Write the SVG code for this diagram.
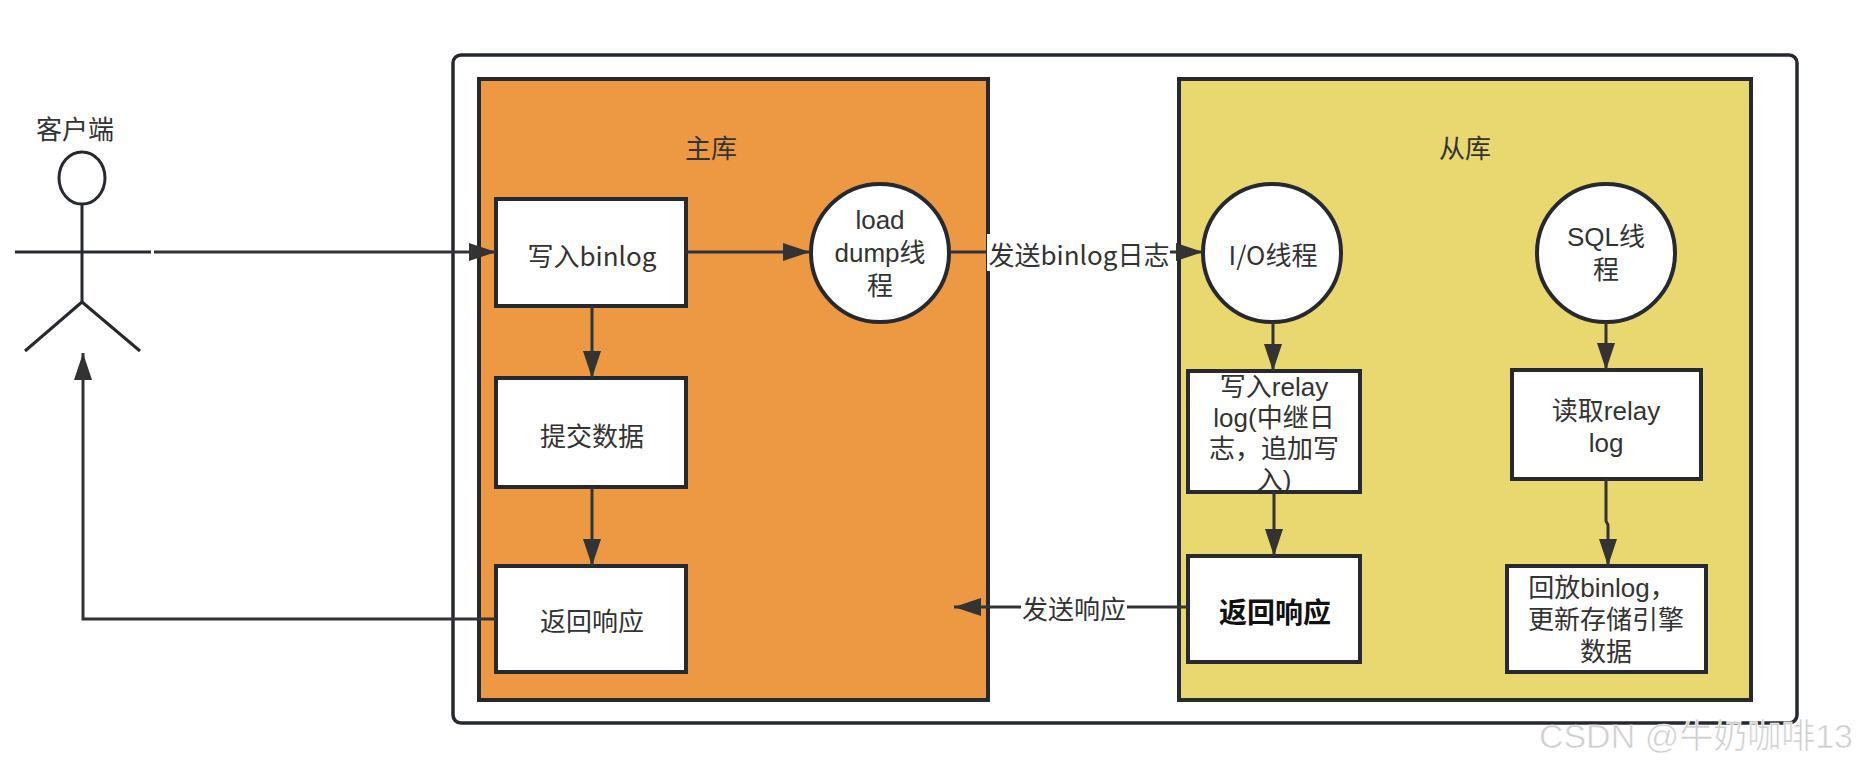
<svg xmlns="http://www.w3.org/2000/svg" width="1858" height="768" viewBox="0 0 1858 768">
<style>
  text { font-family: "Noto Sans CJK SC", "Liberation Sans", sans-serif; fill: #333333; }
  .t { font-size: 26px; text-anchor: middle; dominant-baseline: central; }
  .tr { font-family: "Liberation Sans", "Noto Sans CJK SC", sans-serif; font-size: 26px; text-anchor: middle; dominant-baseline: central; }
  .tb { font-size: 28px; font-weight: bold; text-anchor: middle; dominant-baseline: central; fill: #111111; }
  .box { fill: #ffffff; stroke: #262a30; stroke-width: 4; }
  .grp { stroke: #262a30; stroke-width: 4; }
  .arr { fill: none; stroke: #333333; stroke-width: 3; marker-end: url(#ah); }
  .fig { fill: none; stroke: #262a30; stroke-width: 3; }
  .wm { font-family: "Liberation Sans", "Noto Sans CJK SC", sans-serif; font-size: 34px; fill: #cfcfcf; stroke: #ffffff; stroke-width: 0.6; text-anchor: end; dominant-baseline: central; }
</style>
<defs>
  <marker id="ah" viewBox="0 0 27 18" refX="27" refY="9" markerWidth="27" markerHeight="18" markerUnits="userSpaceOnUse" orient="auto">
    <path d="M0,0 L27,9 L0,18 Z" fill="#333333"/>
  </marker>
</defs>
<rect width="1858" height="768" fill="#ffffff"/>

<g id="client">
  <text class="t" x="75" y="127">客户端</text>
  <ellipse class="fig" cx="82" cy="178" rx="23" ry="26" fill="#ffffff"/>
  <line class="fig" x1="82" y1="204" x2="82" y2="302"/>
  <line class="fig" x1="15" y1="252" x2="151" y2="252" stroke-width="4"/>
  <line class="fig" x1="82" y1="302" x2="25" y2="351"/>
  <line class="fig" x1="82" y1="302" x2="140" y2="351"/>
</g>

<g id="container">
  <rect x="453" y="55" width="1344" height="668" rx="8" fill="#ffffff" stroke="#262a30" stroke-width="3.5"/>
</g>

<g id="master">
  <rect class="grp" x="479" y="79" width="509" height="621" fill="#ED9944"/>
  <text class="t" x="711" y="146">主库</text>
</g>

<g id="slave">
  <rect class="grp" x="1179" y="79" width="572" height="621" fill="#E9D770"/>
  <text class="t" x="1465" y="146">从库</text>
</g>

<g id="write-binlog">
  <rect class="box" x="496" y="199" width="190" height="107"/>
  <text class="t" x="592" y="254">写入binlog</text>
</g>

<g id="commit">
  <rect class="box" x="496" y="378" width="190" height="109"/>
  <text class="t" x="592" y="434">提交数据</text>
</g>

<g id="master-response">
  <rect class="box" x="496" y="566" width="190" height="106"/>
  <text class="t" x="592" y="619">返回响应</text>
</g>

<g id="dump-thread">
  <ellipse class="box" cx="880" cy="253" rx="69" ry="69"/>
  <text class="tr"><tspan x="880" y="220">load</tspan><tspan x="880" y="253">dump线</tspan><tspan x="880" y="286">程</tspan></text>
</g>

<g id="io-thread">
  <ellipse class="box" cx="1272" cy="253" rx="69" ry="69"/>
  <text class="t" x="1273" y="253">I/O线程</text>
</g>

<g id="sql-thread">
  <ellipse class="box" cx="1606" cy="253" rx="69" ry="69"/>
  <text class="tr"><tspan x="1606" y="237">SQL线</tspan><tspan x="1606" y="270">程</tspan></text>
</g>

<g id="write-relay">
  <rect class="box" x="1188" y="371" width="172" height="121"/>
  <text class="tr"><tspan x="1274" y="387">写入relay</tspan><tspan x="1274" y="418">log(中继日</tspan><tspan x="1274" y="449">志，追加写</tspan><tspan x="1274" y="480">入)</tspan></text>
</g>

<g id="slave-response">
  <rect class="box" x="1188" y="556" width="172" height="106"/>
  <text class="tb" x="1275" y="611">返回响应</text>
</g>

<g id="read-relay">
  <rect class="box" x="1512" y="370" width="189" height="109"/>
  <text class="tr"><tspan x="1606" y="411">读取relay</tspan><tspan x="1606" y="443">log</tspan></text>
</g>

<g id="replay">
  <rect class="box" x="1507" y="566" width="199" height="106"/>
  <text class="tr"><tspan x="1602" y="588">回放binlog，</tspan><tspan x="1606" y="620">更新存储引擎</tspan><tspan x="1606" y="652">数据</tspan></text>
</g>

<g id="connectors">
  <path class="arr" d="M154,252 L496,252"/>
  <path class="arr" d="M496,619 L83,619 L83,353"/>
  <path class="arr" d="M686,252 L810,252"/>
  <path class="arr" d="M592,306 L592,378"/>
  <path class="arr" d="M592,487 L592,566"/>
  <path class="arr" d="M950,252 L1203,252"/>
  <rect x="987" y="234" width="183" height="37" fill="#ffffff"/>
  <text class="t" x="1079" y="253">发送binlog日志</text>
  <path class="arr" d="M1273,322 L1273,371"/>
  <path class="arr" d="M1274,492 L1274,556"/>
  <path class="arr" d="M1188,607 L954,607"/>
  <rect x="1021" y="590" width="106" height="34" fill="#ffffff"/>
  <text class="t" x="1074" y="607">发送响应</text>
  <path class="arr" d="M1606,322 L1606,370"/>
  <path class="arr" d="M1606,479 L1606,521 L1608,525 L1608,566"/>
</g>

<text class="wm" x="1853" y="736">CSDN @牛奶咖啡13</text>
</svg>
